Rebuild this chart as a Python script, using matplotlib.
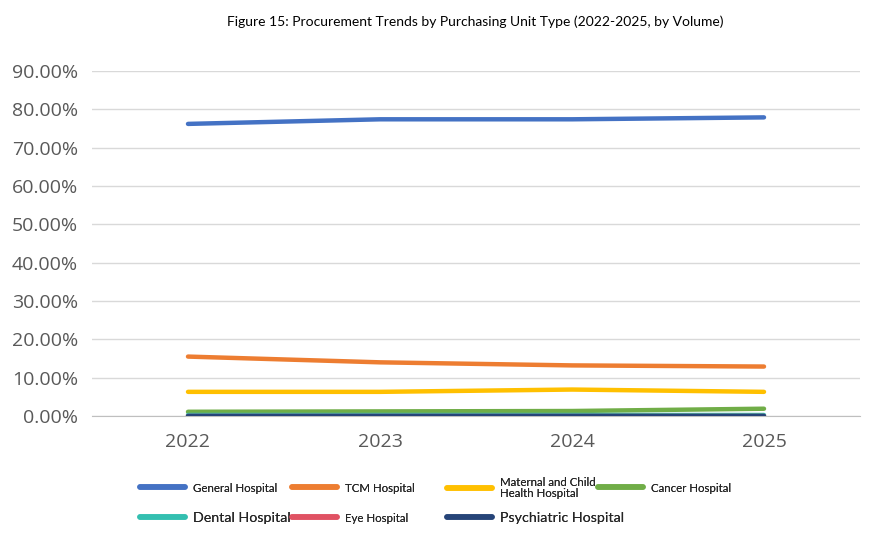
import matplotlib
matplotlib.use("Agg")
import matplotlib.pyplot as plt
from matplotlib.lines import Line2D

years = ["2022", "2023", "2024", "2025"]
general = [76.2, 77.4, 77.4, 77.9]
tcm = [15.5, 14.0, 13.2, 12.9]
maternal = [6.3, 6.3, 6.9, 6.3]
cancer = [1.1, 1.2, 1.3, 1.9]
dental = [0.2, 0.2, 0.2, 0.2]
eye = [0.1, 0.1, 0.1, 0.1]
psychiatric = [0.1, 0.1, 0.1, 0.1]
yticks = [0, 10, 20, 30, 40, 50, 60, 70, 80, 90]

series = [
    ("General Hospital", general, "#4472C4"),
    ("TCM Hospital", tcm, "#ED7D31"),
    ("Maternal and Child\nHealth Hospital", maternal, "#FFC000"),
    ("Cancer Hospital", cancer, "#70AD47"),
    ("Dental Hospital", dental, "#33BFB0"),
    ("Eye Hospital", eye, "#E05263"),
    ("Psychiatric Hospital", psychiatric, "#264478"),
]

W, H = 878, 546
fig = plt.figure(figsize=(W / 100, H / 100), dpi=100)
ax = fig.add_axes([92 / W, 1 - 416 / H, (860 - 92) / W, (416 - 71) / H])

x = list(range(len(years)))
for name, vals, col in series:
    ax.plot(x, vals, color=col, lw=3.2, solid_capstyle="round", zorder=3)

ax.set_xlim(-0.5, len(years) - 0.5)
ax.set_ylim(0, 90)
ax.set_yticks(yticks)
ax.set_yticklabels([f"{v:.2f}%" for v in yticks], fontsize=14, color="#595959",
                   family="Open Sans")
ax.set_xticks(x)
ax.set_xticklabels(years, fontsize=14, color="#595959", family="Open Sans")
ax.tick_params(length=0, pad=10)
ax.tick_params(axis="x", pad=12)
ax.grid(axis="y", color="#D9D9D9", lw=1)
ax.set_axisbelow(True)
for s in ["top", "right", "left"]:
    ax.spines[s].set_visible(False)
ax.spines["bottom"].set_color("#BFBFBF")

fig.text(475 / W, 1 - 22 / H,
         "Figure 15: Procurement Trends by Purchasing Unit Type (2022-2025, by Volume)",
         ha="center", va="center", fontsize=10, family="Lato",
         color="#000000")

# legend entries placed individually: (x px, y px, font size)
legend_pos = [(140, 488, 8.3), (292, 488, 8.3), (447, 488, 8.3), (598, 488, 8.3),
              (140, 518, 10.3), (292, 518, 8.3), (447, 518, 10.3)]
for (name, vals, col), (px, py, fs) in zip(series, legend_pos):
    h = Line2D([], [], color=col, lw=4, solid_capstyle="round")
    fpx = fs * 100 / 72
    lg = fig.legend([h], [name], loc="center left",
                    bbox_to_anchor=(px / W, 1 - py / H), frameon=False,
                    handlelength=45 / fpx,
                    handletextpad=8 / fpx, borderaxespad=0, borderpad=0,
                    prop={"family": "Lato", "size": fs})
    for t in lg.get_texts():
        t.set_color("#262626")
        t.set_linespacing(1.0)
    fig.add_artist(lg)

fig.savefig("out.png", dpi=100)
